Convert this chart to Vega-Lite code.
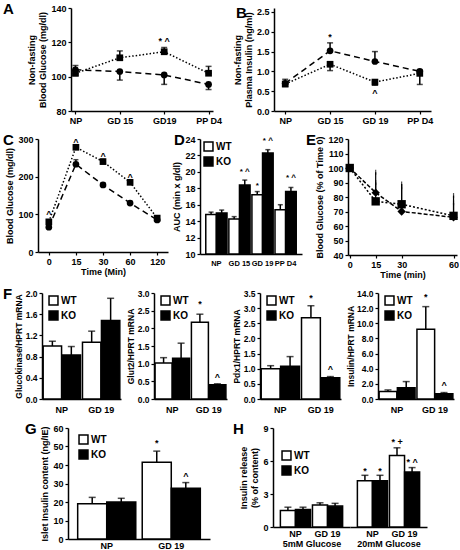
{
"$schema": "https://vega.github.io/schema/vega-lite/v6.json",
"padding": {"left": 2, "top": 2, "right": 0, "bottom": 0},
"config": {
 "view": {"stroke": null},
 "font": "Liberation Sans",
 "axis": {"domainColor": "black", "domainWidth": 1.5, "tickColor": "black", "tickWidth": 1.2, "tickSize": 3, "labelColor": "black", "titleColor": "black", "labelFont": "Liberation Sans", "titleFont": "Liberation Sans", "labelFontWeight": "bold", "titleFontWeight": "bold", "labelFontSize": 9, "titleFontSize": 9, "grid": false, "labelPadding": 2, "titlePadding": 3, "labelOverlap": false, "labelFlush": false},
 "axisX": {"labelAngle": 0},
 "legend": {"labelFontSize": 10, "labelFontWeight": "bold", "labelColor": "black", "labelFont": "Liberation Sans", "symbolStrokeColor": "black", "symbolStrokeWidth": 1.5, "rowPadding": 0, "padding": 0, "labelOffset": 2, "titlePadding": 0},
 "title": {"fontSize": 15, "fontWeight": "bold", "color": "black", "font": "Liberation Sans", "anchor": "start", "frame": "group", "baseline": "top", "offset": -13},
 "text": {"font": "Liberation Sans", "fontWeight": "bold", "fontSize": 9, "color": "black"}
},
"datasets": {
 "A": [
  {"t": "NP", "g": "WT", "m": 104, "lo": 101.5, "hi": 106.5},
  {"t": "GD 15", "g": "WT", "m": 103, "lo": 98, "hi": 103},
  {"t": "GD19", "g": "WT", "m": 101, "lo": 95.5, "hi": 101},
  {"t": "PP D4", "g": "WT", "m": 95.5, "lo": 92.5, "hi": 95.5},
  {"t": "NP", "g": "KO", "m": 102, "lo": 100.5, "hi": 102},
  {"t": "GD 15", "g": "KO", "m": 111, "lo": 111, "hi": 115},
  {"t": "GD19", "g": "KO", "m": 114.5, "lo": 114.5, "hi": 117},
  {"t": "PP D4", "g": "KO", "m": 102, "lo": 102, "hi": 106}
 ],
 "A_note": [{"t": "GD19", "y": 121, "label": "* ^"}],
 "B": [
  {"t": "NP", "g": "WT", "m": 0.7, "lo": 0.7, "hi": 0.8},
  {"t": "GD 15", "g": "WT", "m": 1.52, "lo": 1.52, "hi": 1.72},
  {"t": "GD 19", "g": "WT", "m": 1.25, "lo": 1.25, "hi": 1.5},
  {"t": "PP D4", "g": "WT", "m": 1.0, "lo": 1.0, "hi": 1.04},
  {"t": "NP", "g": "KO", "m": 0.68, "lo": 0.62, "hi": 0.68},
  {"t": "GD 15", "g": "KO", "m": 1.18, "lo": 1.02, "hi": 1.18},
  {"t": "GD 19", "g": "KO", "m": 0.73, "lo": 0.65, "hi": 0.73},
  {"t": "PP D4", "g": "KO", "m": 0.95, "lo": 0.67, "hi": 0.95}
 ],
 "B_note": [{"t": "GD 15", "y": 1.88, "label": "*"}, {"t": "GD 19", "y": 0.45, "label": "^"}],
 "C": [
  {"t": "0", "g": "WT", "m": 66, "lo": 62, "hi": 66},
  {"t": "15", "g": "WT", "m": 233, "lo": 233, "hi": 245},
  {"t": "30", "g": "WT", "m": 178, "lo": 178, "hi": 183},
  {"t": "60", "g": "WT", "m": 130, "lo": 130, "hi": 134},
  {"t": "120", "g": "WT", "m": 85, "lo": 85, "hi": 88},
  {"t": "0", "g": "KO", "m": 80, "lo": 80, "hi": 85},
  {"t": "15", "g": "KO", "m": 278, "lo": 278, "hi": 284},
  {"t": "30", "g": "KO", "m": 240, "lo": 240, "hi": 246},
  {"t": "60", "g": "KO", "m": 185, "lo": 185, "hi": 190},
  {"t": "120", "g": "KO", "m": 90, "lo": 90, "hi": 95}
 ],
 "C_note": [{"t": "0", "y": 100, "label": "^"}, {"t": "15", "y": 293, "label": "^"}, {"t": "30", "y": 256, "label": "^"}, {"t": "60", "y": 199, "label": "^"}],
 "D": [
  {"t": "NP", "g": "WT", "m": 14.8, "hi": 15.1},
  {"t": "NP", "g": "KO", "m": 15.0, "hi": 15.35},
  {"t": "GD 15", "g": "WT", "m": 14.25, "hi": 14.55},
  {"t": "GD 15", "g": "KO", "m": 18.4, "hi": 19.0},
  {"t": "GD 19", "g": "WT", "m": 17.2, "hi": 17.6},
  {"t": "GD 19", "g": "KO", "m": 22.3, "hi": 22.7},
  {"t": "PP D4", "g": "WT", "m": 15.4, "hi": 16.0},
  {"t": "PP D4", "g": "KO", "m": 17.6, "hi": 18.1}
 ],
 "D_note": [{"t": "GD 15", "g": "KO", "y": 20.0, "label": "* ^"}, {"t": "GD 19", "g": "WT", "y": 18.3, "label": "*"}, {"t": "GD 19", "g": "KO", "y": 23.7, "label": "* ^"}, {"t": "PP D4", "g": "KO", "y": 19.3, "label": "* ^"}],
 "E": [
  {"t": 0, "g": "WT", "m": 100, "hi": 100},
  {"t": 15, "g": "WT", "m": 83, "hi": 97},
  {"t": 30, "g": "WT", "m": 70, "hi": 89},
  {"t": 60, "g": "WT", "m": 66, "hi": 81},
  {"t": 0, "g": "KO", "m": 100, "hi": 100},
  {"t": 15, "g": "KO", "m": 77, "hi": 90},
  {"t": 30, "g": "KO", "m": 75, "hi": 87},
  {"t": 60, "g": "KO", "m": 67, "hi": 76}
 ],
 "F1": [
  {"t": "NP", "g": "WT", "m": 1.0, "hi": 1.09},
  {"t": "NP", "g": "KO", "m": 0.83, "hi": 0.99},
  {"t": "GD 19", "g": "WT", "m": 1.07, "hi": 1.28},
  {"t": "GD 19", "g": "KO", "m": 1.48, "hi": 1.9}
 ],
 "F2": [
  {"t": "NP", "g": "WT", "m": 1.02, "hi": 1.17},
  {"t": "NP", "g": "KO", "m": 1.15, "hi": 1.58},
  {"t": "GD 19", "g": "WT", "m": 2.17, "hi": 2.4},
  {"t": "GD 19", "g": "KO", "m": 0.4, "hi": 0.43}
 ],
 "F2_note": [{"t": "GD 19", "g": "WT", "y": 2.68, "label": "*"}, {"t": "GD 19", "g": "KO", "y": 0.62, "label": "^"}],
 "F3": [
  {"t": "NP", "g": "WT", "m": 1.0, "hi": 1.1},
  {"t": "NP", "g": "KO", "m": 1.08, "hi": 1.4},
  {"t": "GD 19", "g": "WT", "m": 2.68, "hi": 3.08},
  {"t": "GD 19", "g": "KO", "m": 0.7, "hi": 0.74}
 ],
 "F3_note": [{"t": "GD 19", "g": "WT", "y": 3.35, "label": "*"}, {"t": "GD 19", "g": "KO", "y": 1.0, "label": "^"}],
 "F4": [
  {"t": "NP", "g": "WT", "m": 1.0, "hi": 1.2},
  {"t": "NP", "g": "KO", "m": 1.5, "hi": 2.3},
  {"t": "GD 19", "g": "WT", "m": 9.2, "hi": 12.2},
  {"t": "GD 19", "g": "KO", "m": 0.7, "hi": 0.85}
 ],
 "F4_note": [{"t": "GD 19", "g": "WT", "y": 13.5, "label": "*"}, {"t": "GD 19", "g": "KO", "y": 1.9, "label": "^"}],
 "G": [
  {"t": "NP", "g": "WT", "m": 19, "hi": 22.5},
  {"t": "NP", "g": "KO", "m": 20, "hi": 22},
  {"t": "GD 19", "g": "WT", "m": 41.5, "hi": 47.5},
  {"t": "GD 19", "g": "KO", "m": 27.5, "hi": 30.5}
 ],
 "G_note": [{"t": "GD 19", "g": "WT", "y": 52, "label": "*"}, {"t": "GD 19", "g": "KO", "y": 34, "label": "^"}],
 "H5": [
  {"t": "NP", "g": "WT", "m": 1.5, "hi": 1.8},
  {"t": "NP", "g": "KO", "m": 1.6, "hi": 1.8},
  {"t": "GD 19", "g": "WT", "m": 2.0, "hi": 2.2},
  {"t": "GD 19", "g": "KO", "m": 1.9, "hi": 2.15}
 ],
 "H20": [
  {"t": "NP", "g": "WT", "m": 4.2, "hi": 4.7},
  {"t": "NP", "g": "KO", "m": 4.2, "hi": 4.7},
  {"t": "GD 19", "g": "WT", "m": 6.5, "hi": 7.2},
  {"t": "GD 19", "g": "KO", "m": 5.0, "hi": 5.4}
 ],
 "H20_note": [{"t": "NP", "g": "WT", "y": 5.1, "label": "*"}, {"t": "NP", "g": "KO", "y": 5.1, "label": "*"}, {"t": "GD 19", "g": "WT", "y": 7.7, "label": "* +"}, {"t": "GD 19", "g": "KO", "y": 5.9, "label": "* ^"}],
 "spacer": [{"s": 0}]
},
"columns": 1,
"align": "none",
"resolve": {"scale": {"color": "independent", "shape": "independent", "strokeDash": "independent", "xOffset": "independent"}, "legend": {"color": "independent", "shape": "independent", "strokeDash": "independent"}},
"spacing": 8,
"concat": [
 {"hconcat": [
  {"width": 1, "height": 1, "data": {"name": "spacer"}, "mark": {"type": "point", "opacity": 0, "size": 1}},
  {"hconcat": [
  {"title": {"text": "A", "dx": -68}, "width": 142, "height": 103, "data": {"name": "A"},
   "encoding": {"x": {"field": "t", "type": "ordinal", "scale": {"type": "point", "padding": 0.1, "domain": ["NP", "GD 15", "GD19", "PP D4"]}, "axis": {"title": null}}},
   "layer": [
    {"mark": {"type": "line", "color": "black", "strokeWidth": 1.5}, "encoding": {"y": {"field": "m", "type": "quantitative", "scale": {"domain": [80, 140]}, "axis": {"tickCount": 3, "title": ["Non-fasting", "Blood Glucose (mg/dl)"]}}, "strokeDash": {"field": "g", "type": "nominal", "scale": {"domain": ["WT", "KO"], "range": [[6, 4], [1.5, 2]]}, "legend": null}}},
    {"mark": {"type": "rule", "color": "black", "strokeWidth": 1.5}, "encoding": {"y": {"field": "lo", "type": "quantitative"}, "y2": {"field": "hi"}}},
    {"mark": {"type": "tick", "color": "black", "thickness": 1.5, "size": 6}, "encoding": {"y": {"field": "hi", "type": "quantitative"}}},
    {"mark": {"type": "tick", "color": "black", "thickness": 1.5, "size": 6}, "encoding": {"y": {"field": "lo", "type": "quantitative"}}},
    {"mark": {"type": "point", "filled": true, "color": "black", "size": 45, "opacity": 1}, "encoding": {"y": {"field": "m", "type": "quantitative"}, "shape": {"field": "g", "type": "nominal", "scale": {"domain": ["WT", "KO"], "range": ["circle", "square"]}, "legend": {"title": null, "orient": "none", "legendX": -8, "legendY": 12, "symbolSize": 45}}}},
    {"data": {"name": "A_note"}, "mark": {"type": "text", "baseline": "middle"}, "encoding": {"y": {"field": "y", "type": "quantitative"}, "text": {"field": "label"}}}
   ]},
  {"title": {"text": "B", "dx": -38}, "width": 157, "height": 103, "data": {"name": "B"},
   "encoding": {"x": {"field": "t", "type": "ordinal", "scale": {"type": "point", "padding": 0.25, "domain": ["NP", "GD 15", "GD 19", "PP D4"]}, "axis": {"title": null}}},
   "layer": [
    {"mark": {"type": "line", "color": "black", "strokeWidth": 1.5}, "encoding": {"y": {"field": "m", "type": "quantitative", "scale": {"domain": [0, 2.5]}, "axis": {"tickCount": 5, "format": ".1f", "title": ["Non-fasting", "Plasma Insulin (ng/ml)"]}}, "strokeDash": {"field": "g", "type": "nominal", "scale": {"domain": ["WT", "KO"], "range": [[6, 4], [1.5, 2]]}, "legend": null}}},
    {"mark": {"type": "rule", "color": "black", "strokeWidth": 1.5}, "encoding": {"y": {"field": "lo", "type": "quantitative"}, "y2": {"field": "hi"}}},
    {"mark": {"type": "tick", "color": "black", "thickness": 1.5, "size": 6}, "encoding": {"y": {"field": "hi", "type": "quantitative"}}},
    {"mark": {"type": "tick", "color": "black", "thickness": 1.5, "size": 6}, "encoding": {"y": {"field": "lo", "type": "quantitative"}}},
    {"mark": {"type": "point", "filled": true, "color": "black", "size": 45, "opacity": 1}, "encoding": {"y": {"field": "m", "type": "quantitative"}, "shape": {"field": "g", "type": "nominal", "scale": {"domain": ["WT", "KO"], "range": ["circle", "square"]}, "legend": {"title": null, "orient": "none", "legendX": 12, "legendY": 12, "symbolSize": 45}}}},
    {"data": {"name": "B_note"}, "mark": {"type": "text", "baseline": "middle"}, "encoding": {"y": {"field": "y", "type": "quantitative"}, "text": {"field": "label"}}}
   ]}
  ], "spacing": 11, "align": "none",
  "resolve": {"scale": {"color": "independent", "shape": "independent", "strokeDash": "independent", "xOffset": "independent"}, "legend": {"color": "independent", "shape": "independent", "strokeDash": "independent"}}}
 ], "spacing": 0, "align": "none",
 "resolve": {"scale": {"color": "independent", "shape": "independent", "strokeDash": "independent", "xOffset": "independent"}, "legend": {"color": "independent", "shape": "independent", "strokeDash": "independent"}}},
 {"hconcat": [
  {"width": 1, "height": 1, "data": {"name": "spacer"}, "mark": {"type": "point", "opacity": 0, "size": 1}},
  {"hconcat": [
  {"title": {"text": "C", "dx": -35}, "width": 130, "height": 113, "data": {"name": "C"},
   "encoding": {"x": {"field": "t", "type": "ordinal", "scale": {"type": "point", "padding": 0.4, "domain": ["0", "15", "30", "60", "120"]}, "axis": {"title": "Time (Min)", "titlePadding": 1}}},
   "layer": [
    {"mark": {"type": "line", "color": "black", "strokeWidth": 1.5}, "encoding": {"y": {"field": "m", "type": "quantitative", "scale": {"domain": [0, 300]}, "axis": {"tickCount": 3, "title": "Blood Glucose (mg/dl)"}}, "strokeDash": {"field": "g", "type": "nominal", "scale": {"domain": ["WT", "KO"], "range": [[6, 4], [1.5, 2]]}, "legend": null}}},
    {"mark": {"type": "rule", "color": "black", "strokeWidth": 1.5}, "encoding": {"y": {"field": "lo", "type": "quantitative"}, "y2": {"field": "hi"}}},
    {"mark": {"type": "tick", "color": "black", "thickness": 1.5, "size": 5}, "encoding": {"y": {"field": "hi", "type": "quantitative"}}},
    {"mark": {"type": "point", "filled": true, "color": "black", "size": 45, "opacity": 1}, "encoding": {"y": {"field": "m", "type": "quantitative"}, "shape": {"field": "g", "type": "nominal", "scale": {"domain": ["WT", "KO"], "range": ["circle", "square"]}, "legend": {"title": null, "orient": "none", "legendX": 38, "legendY": 88, "symbolSize": 45}}}},
    {"data": {"name": "C_note"}, "mark": {"type": "text", "baseline": "middle"}, "encoding": {"y": {"field": "y", "type": "quantitative"}, "text": {"field": "label"}}}
   ]},
  {"title": {"text": "D", "dx": -26}, "width": 102, "height": 115, "data": {"name": "D"},
   "encoding": {"x": {"field": "t", "type": "nominal", "scale": {"domain": ["NP", "GD 15", "GD 19", "PP D4"], "paddingInner": 0.08, "paddingOuter": 0.25}, "axis": {"title": null, "ticks": false, "labelFontSize": 7.5, "labelPadding": 5}},
    "xOffset": {"field": "g", "type": "nominal", "scale": {"domain": ["WT", "KO"]}}},
   "layer": [
    {"mark": {"type": "bar", "stroke": "black", "strokeWidth": 1.5}, "encoding": {"y": {"field": "m", "type": "quantitative", "scale": {"domain": [10, 24], "zero": false}, "axis": {"tickCount": 7, "title": "AUC (min x g/dl)"}}, "y2": {"datum": 10}, "color": {"field": "g", "type": "nominal", "scale": {"domain": ["WT", "KO"], "range": ["white", "black"]}, "legend": {"title": null, "orient": "none", "legendX": 3, "legendY": 2, "symbolType": "square", "symbolSize": 80}}}},
    {"mark": {"type": "rule", "color": "black", "strokeWidth": 1.5}, "encoding": {"y": {"field": "m", "type": "quantitative"}, "y2": {"field": "hi"}}},
    {"mark": {"type": "tick", "color": "black", "thickness": 1.5, "size": 5}, "encoding": {"y": {"field": "hi", "type": "quantitative"}}},
    {"data": {"name": "D_note"}, "mark": {"type": "text", "baseline": "middle", "fontSize": 8}, "encoding": {"y": {"field": "y", "type": "quantitative"}, "text": {"field": "label"}}}
   ]},
  {"title": {"text": "E", "dx": -42}, "width": 109, "height": 116, "data": {"name": "E"},
   "encoding": {"x": {"field": "t", "type": "quantitative", "scale": {"domain": [-1, 62], "nice": false}, "axis": {"values": [0, 15, 30, 60], "title": "Time (min)", "titlePadding": 1}}},
   "layer": [
    {"mark": {"type": "line", "color": "black", "strokeWidth": 1.5}, "encoding": {"y": {"field": "m", "type": "quantitative", "scale": {"domain": [40, 120]}, "axis": {"tickCount": 8, "title": "Blood Glucose (% of Time 0)"}}, "strokeDash": {"field": "g", "type": "nominal", "scale": {"domain": ["WT", "KO"], "range": [[4, 2], [2, 2]]}, "legend": null}}},
    {"mark": {"type": "rule", "color": "black", "strokeWidth": 1.2}, "encoding": {"y": {"field": "m", "type": "quantitative"}, "y2": {"field": "hi"}}},
    {"mark": {"type": "tick", "color": "black", "thickness": 1.2, "size": 5}, "encoding": {"y": {"field": "hi", "type": "quantitative"}}},
    {"mark": {"type": "point", "filled": true, "color": "black", "size": 70, "opacity": 1}, "encoding": {"y": {"field": "m", "type": "quantitative"}, "shape": {"field": "g", "type": "nominal", "scale": {"domain": ["WT", "KO"], "range": ["diamond", "square"]}, "legend": {"title": null, "orient": "none", "legendX": 2, "legendY": 72, "symbolSize": 40}}}}
   ]}
  ], "spacing": 4, "align": "none",
  "resolve": {"scale": {"color": "independent", "shape": "independent", "strokeDash": "independent", "xOffset": "independent"}, "legend": {"color": "independent", "shape": "independent", "strokeDash": "independent"}}}
 ], "spacing": 0, "align": "none",
 "resolve": {"scale": {"color": "independent", "shape": "independent", "strokeDash": "independent", "xOffset": "independent"}, "legend": {"color": "independent", "shape": "independent", "strokeDash": "independent"}}},
 {"hconcat": [
  {"width": 1, "height": 1, "data": {"name": "spacer"}, "mark": {"type": "point", "opacity": 0, "size": 1}},
  {"hconcat": [
  {"title": {"text": "F", "dx": -39}, "width": 79, "height": 106, "data": {"name": "F1"},
   "encoding": {"x": {"field": "t", "type": "nominal", "scale": {"domain": ["NP", "GD 19"], "paddingInner": 0.05, "paddingOuter": 0.03}, "axis": {"title": null, "ticks": false, "labelPadding": 6}},
    "xOffset": {"field": "g", "type": "nominal", "scale": {"domain": ["WT", "KO"], "paddingInner": 0.03}}},
   "layer": [
    {"mark": {"type": "bar", "stroke": "black", "strokeWidth": 1.5}, "encoding": {"y": {"field": "m", "type": "quantitative", "scale": {"domain": [0, 2]}, "axis": {"values": [0, 0.4, 0.8, 1.2, 1.6, 2.0], "format": ".1f", "title": "Glucokinase/HPRT mRNA", "titleFontSize": 8.5, "labelFontSize": 8.5, "titlePadding": 2}}, "color": {"field": "g", "type": "nominal", "scale": {"domain": ["WT", "KO"], "range": ["white", "black"]}, "legend": {"title": null, "orient": "none", "legendX": 6, "legendY": 2, "symbolType": "square", "symbolSize": 80}}}},
    {"mark": {"type": "rule", "color": "black", "strokeWidth": 1.5}, "encoding": {"y": {"field": "m", "type": "quantitative", "axis": {"values": [0, 0.4, 0.8, 1.2, 1.6, 2.0], "format": ".1f", "title": "Glucokinase/HPRT mRNA", "titleFontSize": 8.5, "labelFontSize": 8.5, "titlePadding": 2}}, "y2": {"field": "hi"}}},
    {"mark": {"type": "tick", "color": "black", "thickness": 1.5, "size": 7}, "encoding": {"y": {"field": "hi", "type": "quantitative", "axis": {"values": [0, 0.4, 0.8, 1.2, 1.6, 2.0], "format": ".1f", "title": "Glucokinase/HPRT mRNA", "titleFontSize": 8.5, "labelFontSize": 8.5, "titlePadding": 2}}}}
   ]},
  {"width": 73, "height": 106, "data": {"name": "F2"},
   "encoding": {"x": {"field": "t", "type": "nominal", "scale": {"domain": ["NP", "GD 19"], "paddingInner": 0.05, "paddingOuter": 0.03}, "axis": {"title": null, "ticks": false, "labelPadding": 6}},
    "xOffset": {"field": "g", "type": "nominal", "scale": {"domain": ["WT", "KO"], "paddingInner": 0.03}}},
   "layer": [
    {"mark": {"type": "bar", "stroke": "black", "strokeWidth": 1.5}, "encoding": {"y": {"field": "m", "type": "quantitative", "scale": {"domain": [0, 3]}, "axis": {"tickCount": 6, "format": ".1f", "title": "Glut2/HPRT mRNA", "titleFontSize": 8.5, "labelFontSize": 8.5, "titlePadding": 2}}, "color": {"field": "g", "type": "nominal", "scale": {"domain": ["WT", "KO"], "range": ["white", "black"]}, "legend": {"title": null, "orient": "none", "legendX": 6, "legendY": 2, "symbolType": "square", "symbolSize": 80}}}},
    {"mark": {"type": "rule", "color": "black", "strokeWidth": 1.5}, "encoding": {"y": {"field": "m", "type": "quantitative"}, "y2": {"field": "hi"}}},
    {"mark": {"type": "tick", "color": "black", "thickness": 1.5, "size": 7}, "encoding": {"y": {"field": "hi", "type": "quantitative"}}},
    {"data": {"name": "F2_note"}, "mark": {"type": "text", "baseline": "middle"}, "encoding": {"y": {"field": "y", "type": "quantitative"}, "text": {"field": "label"}}}
   ]},
  {"width": 81, "height": 106, "data": {"name": "F3"},
   "encoding": {"x": {"field": "t", "type": "nominal", "scale": {"domain": ["NP", "GD 19"], "paddingInner": 0.05, "paddingOuter": 0.03}, "axis": {"title": null, "ticks": false, "labelPadding": 6}},
    "xOffset": {"field": "g", "type": "nominal", "scale": {"domain": ["WT", "KO"], "paddingInner": 0.03}}},
   "layer": [
    {"mark": {"type": "bar", "stroke": "black", "strokeWidth": 1.5}, "encoding": {"y": {"field": "m", "type": "quantitative", "scale": {"domain": [0, 3.5]}, "axis": {"tickCount": 7, "format": ".1f", "title": "Pdx1/HPRT mRNA", "titleFontSize": 8.5, "labelFontSize": 8.5, "titlePadding": 2}}, "color": {"field": "g", "type": "nominal", "scale": {"domain": ["WT", "KO"], "range": ["white", "black"]}, "legend": {"title": null, "orient": "none", "legendX": 6, "legendY": 2, "symbolType": "square", "symbolSize": 80}}}},
    {"mark": {"type": "rule", "color": "black", "strokeWidth": 1.5}, "encoding": {"y": {"field": "m", "type": "quantitative"}, "y2": {"field": "hi"}}},
    {"mark": {"type": "tick", "color": "black", "thickness": 1.5, "size": 7}, "encoding": {"y": {"field": "hi", "type": "quantitative"}}},
    {"data": {"name": "F3_note"}, "mark": {"type": "text", "baseline": "middle"}, "encoding": {"y": {"field": "y", "type": "quantitative"}, "text": {"field": "label"}}}
   ]},
  {"width": 76, "height": 106, "data": {"name": "F4"},
   "encoding": {"x": {"field": "t", "type": "nominal", "scale": {"domain": ["NP", "GD 19"], "paddingInner": 0.05, "paddingOuter": 0.03}, "axis": {"title": null, "ticks": false, "labelPadding": 6}},
    "xOffset": {"field": "g", "type": "nominal", "scale": {"domain": ["WT", "KO"], "paddingInner": 0.03}}},
   "layer": [
    {"mark": {"type": "bar", "stroke": "black", "strokeWidth": 1.5}, "encoding": {"y": {"field": "m", "type": "quantitative", "scale": {"domain": [0, 14]}, "axis": {"tickCount": 7, "format": ".1f", "title": "Insulin/HPRT mRNA", "titleFontSize": 8.5, "labelFontSize": 8.5, "titlePadding": 1}}, "color": {"field": "g", "type": "nominal", "scale": {"domain": ["WT", "KO"], "range": ["white", "black"]}, "legend": {"title": null, "orient": "none", "legendX": 6, "legendY": 2, "symbolType": "square", "symbolSize": 80}}}},
    {"mark": {"type": "rule", "color": "black", "strokeWidth": 1.5}, "encoding": {"y": {"field": "m", "type": "quantitative"}, "y2": {"field": "hi"}}},
    {"mark": {"type": "tick", "color": "black", "thickness": 1.5, "size": 7}, "encoding": {"y": {"field": "hi", "type": "quantitative"}}},
    {"data": {"name": "F4_note"}, "mark": {"type": "text", "baseline": "middle"}, "encoding": {"y": {"field": "y", "type": "quantitative"}, "text": {"field": "label"}}}
   ]}
  ], "spacing": 5, "align": "none",
  "resolve": {"scale": {"color": "independent", "shape": "independent", "strokeDash": "independent", "xOffset": "independent"}, "legend": {"color": "independent", "shape": "independent", "strokeDash": "independent"}}}
 ], "spacing": 0, "align": "none",
 "resolve": {"scale": {"color": "independent", "shape": "independent", "strokeDash": "independent", "xOffset": "independent"}, "legend": {"color": "independent", "shape": "independent", "strokeDash": "independent"}}},
 {"hconcat": [
  {"width": 1, "height": 1, "data": {"name": "spacer"}, "mark": {"type": "point", "opacity": 0, "size": 1}},
  {"hconcat": [
  {"title": {"text": "G", "dx": -43}, "width": 142, "height": 111, "data": {"name": "G"},
   "encoding": {"x": {"field": "t", "type": "nominal", "scale": {"domain": ["NP", "GD 19"], "paddingInner": 0.1, "paddingOuter": 0.15}, "axis": {"title": null, "ticks": false, "labelPadding": 2}},
    "xOffset": {"field": "g", "type": "nominal", "scale": {"domain": ["WT", "KO"]}}},
   "layer": [
    {"mark": {"type": "bar", "stroke": "black", "strokeWidth": 1.5}, "encoding": {"y": {"field": "m", "type": "quantitative", "scale": {"domain": [0, 60]}, "axis": {"tickCount": 6, "title": "Islet Insulin content (ng/IE)"}}, "color": {"field": "g", "type": "nominal", "scale": {"domain": ["WT", "KO"], "range": ["white", "black"]}, "legend": {"title": null, "orient": "none", "legendX": 10, "legendY": 6, "symbolType": "square", "symbolSize": 80}}}},
    {"mark": {"type": "rule", "color": "black", "strokeWidth": 1.5}, "encoding": {"y": {"field": "m", "type": "quantitative"}, "y2": {"field": "hi"}}},
    {"mark": {"type": "tick", "color": "black", "thickness": 1.5, "size": 7}, "encoding": {"y": {"field": "hi", "type": "quantitative"}}},
    {"data": {"name": "G_note"}, "mark": {"type": "text", "baseline": "middle"}, "encoding": {"y": {"field": "y", "type": "quantitative"}, "text": {"field": "label"}}}
   ]},
  {"hconcat": [
   {"title": {"text": "H", "dx": -40}, "width": 77, "height": 99, "data": {"name": "H5"},
    "encoding": {"x": {"field": "t", "type": "nominal", "scale": {"domain": ["NP", "GD 19"], "paddingInner": 0.06, "paddingOuter": 0.23}, "axis": {"title": "5mM Glucose", "ticks": false, "labelPadding": 2, "titlePadding": 1}},
     "xOffset": {"field": "g", "type": "nominal", "scale": {"domain": ["WT", "KO"]}}},
    "layer": [
     {"mark": {"type": "bar", "stroke": "black", "strokeWidth": 1.5}, "encoding": {"y": {"field": "m", "type": "quantitative", "scale": {"domain": [0, 9]}, "axis": {"values": [0, 3, 6, 9], "title": ["Insulin release", "(% of content)"]}}, "color": {"field": "g", "type": "nominal", "scale": {"domain": ["WT", "KO"], "range": ["white", "black"]}, "legend": {"title": null, "orient": "none", "legendX": 8, "legendY": 22, "symbolType": "square", "symbolSize": 80}}}},
     {"mark": {"type": "rule", "color": "black", "strokeWidth": 1.5}, "encoding": {"y": {"field": "m", "type": "quantitative", "axis": {"values": [0, 3, 6, 9], "title": ["Insulin release", "(% of content)"]}}, "y2": {"field": "hi"}}},
     {"mark": {"type": "tick", "color": "black", "thickness": 1.5, "size": 7}, "encoding": {"y": {"field": "hi", "type": "quantitative", "axis": {"values": [0, 3, 6, 9], "title": ["Insulin release", "(% of content)"]}}}}
    ]},
   {"width": 77, "height": 99, "data": {"name": "H20"},
    "encoding": {"x": {"field": "t", "type": "nominal", "scale": {"domain": ["NP", "GD 19"], "paddingInner": 0.06, "paddingOuter": 0.23}, "axis": {"title": "20mM Glucose", "ticks": false, "labelPadding": 2, "titlePadding": 1}},
     "xOffset": {"field": "g", "type": "nominal", "scale": {"domain": ["WT", "KO"]}}},
    "layer": [
     {"mark": {"type": "bar", "stroke": "black", "strokeWidth": 1.5}, "encoding": {"y": {"field": "m", "type": "quantitative", "scale": {"domain": [0, 9]}, "axis": null}, "color": {"field": "g", "type": "nominal", "scale": {"domain": ["WT", "KO"], "range": ["white", "black"]}, "legend": null}}},
     {"mark": {"type": "rule", "color": "black", "strokeWidth": 1.5}, "encoding": {"y": {"field": "m", "type": "quantitative", "axis": null}, "y2": {"field": "hi"}}},
     {"mark": {"type": "tick", "color": "black", "thickness": 1.5, "size": 7}, "encoding": {"y": {"field": "hi", "type": "quantitative", "axis": null}}},
     {"data": {"name": "H20_note"}, "mark": {"type": "text", "baseline": "middle"}, "encoding": {"y": {"field": "y", "type": "quantitative", "axis": null}, "text": {"field": "label"}}}
    ]}
  ], "spacing": 0, "align": "none",
  "resolve": {"scale": {"color": "independent", "shape": "independent", "strokeDash": "independent", "xOffset": "independent"}, "legend": {"color": "independent", "shape": "independent", "strokeDash": "independent"}}}
  ], "spacing": 23, "align": "none",
  "resolve": {"scale": {"color": "independent", "shape": "independent", "strokeDash": "independent", "xOffset": "independent"}, "legend": {"color": "independent", "shape": "independent", "strokeDash": "independent"}}}
 ], "spacing": 22, "align": "none",
 "resolve": {"scale": {"color": "independent", "shape": "independent", "strokeDash": "independent", "xOffset": "independent"}, "legend": {"color": "independent", "shape": "independent", "strokeDash": "independent"}}}
]
}
